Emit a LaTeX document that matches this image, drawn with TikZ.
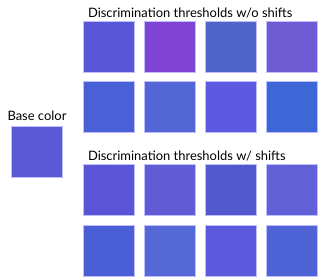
\documentclass[tikz,border=0pt]{standalone}
\usepackage{fontspec}
\setmainfont{Lato}
\usepackage{tikz}
\usetikzlibrary{positioning}

\definecolor{cbase}{HTML}{5A5AD6}
% w/o shifts
\definecolor{ca1}{HTML}{5856D6}
\definecolor{ca2}{HTML}{7F44D4}
\definecolor{ca3}{HTML}{5064CB}
\definecolor{ca4}{HTML}{6E5BD4}
\definecolor{cb1}{HTML}{4A60D6}
\definecolor{cb2}{HTML}{5466D6}
\definecolor{cb3}{HTML}{5C5AE0}
\definecolor{cb4}{HTML}{3D67D6}
% w/ shifts
\definecolor{cc1}{HTML}{5A55D6}
\definecolor{cc2}{HTML}{615CD6}
\definecolor{cc3}{HTML}{5258CE}
\definecolor{cc4}{HTML}{6260D6}
\definecolor{cd1}{HTML}{4A5FD6}
\definecolor{cd2}{HTML}{5468D6}
\definecolor{cd3}{HTML}{5B5ADC}
\definecolor{cd4}{HTML}{4E63D6}

\begin{document}
\begin{tikzpicture}[x=1bp,y=-1bp,font=\fontsize{13}{15}\selectfont]
  \useasboundingbox (0,0) rectangle (318,277);
  \tikzset{sw/.style={draw=blue!25!white,line width=0.6bp,minimum size=51bp,
                      inner sep=0pt,outer sep=0pt}}
  % base colour
  \node[sw,fill=cbase] (base) at (37,151.5) {};
  \node[above=2bp of base] (baselbl) {Base color};
  % rows: w/o shifts
  \node[sw,fill=ca1] (a1) at (108.8,47) {};
  \node[sw,fill=ca2] (a2) at (169.9,47) {};
  \node[sw,fill=ca3] (a3) at (231.0,47) {};
  \node[sw,fill=ca4] (a4) at (292.2,47) {};
  \node[sw,fill=cb1] (b1) at (108.8,107.2) {};
  \node[sw,fill=cb2] (b2) at (169.9,107.2) {};
  \node[sw,fill=cb3] (b3) at (231.0,107.2) {};
  \node[sw,fill=cb4] (b4) at (292.2,107.2) {};
  % rows: w/ shifts
  \node[sw,fill=cc1] (c1) at (108.8,190.2) {};
  \node[sw,fill=cc2] (c2) at (169.9,190.2) {};
  \node[sw,fill=cc3] (c3) at (231.0,190.2) {};
  \node[sw,fill=cc4] (c4) at (292.2,190.2) {};
  \node[sw,fill=cd1] (d1) at (108.8,250.5) {};
  \node[sw,fill=cd2] (d2) at (169.9,250.5) {};
  \node[sw,fill=cd3] (d3) at (231.0,250.5) {};
  \node[sw,fill=cd4] (d4) at (292.2,250.5) {};
  % titles
  \node[anchor=west] (ttla) at (84.5,13) {Discrimination thresholds w/o shifts};
  \node[anchor=west] (ttlb) at (84.5,156) {Discrimination thresholds w/ shifts};
\end{tikzpicture}
\end{document}
